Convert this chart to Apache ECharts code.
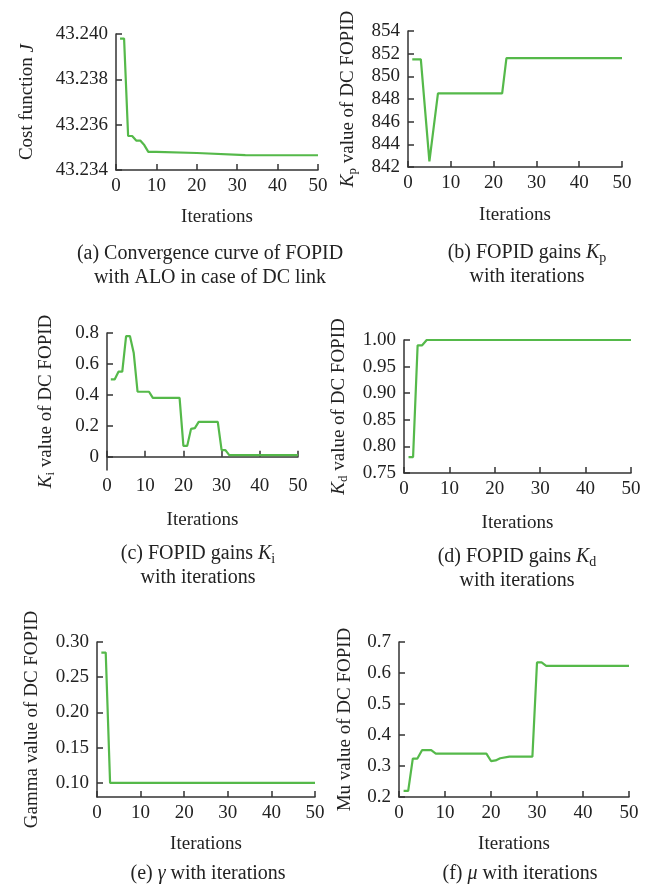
<!DOCTYPE html>
<html>
<head>
<meta charset="utf-8">
<script src="https://cdn.jsdelivr.net/npm/echarts@6/dist/echarts.min.js"></script>
<style>
  html, body { margin: 0; padding: 0; background: #fff; }
  #chart { width: 663px; height: 885px; }
</style>
</head>
<body>
<div id="chart"></div>
<script>
// (a) cost function J
var costIter = [1, 2, 3, 4, 5, 6, 7, 8, 10, 20, 32, 50];
var costVal = [43.2398, 43.2398, 43.2355, 43.2355, 43.2353, 43.2353, 43.2351, 43.2348, 43.2348, 43.23475, 43.23466, 43.23465];
// (b) Kp
var kpIter = [1, 3, 5, 7, 22, 23, 50];
var kpVal = [851.5, 851.5, 842.5, 848.5, 848.5, 851.6, 851.6];
// (c) Ki
var kiIter = [1, 2, 3, 4, 5, 6, 7, 8, 11, 12, 19, 20, 21, 22, 23, 24, 29, 30, 31, 32, 50];
var kiVal = [0.50, 0.50, 0.55, 0.55, 0.78, 0.78, 0.67, 0.42, 0.42, 0.38, 0.38, 0.07, 0.07, 0.18, 0.185, 0.225, 0.225, 0.043, 0.043, 0.01, 0.01];
// (d) Kd
var kdIter = [1, 2, 3, 4, 5, 50];
var kdVal = [0.78, 0.78, 0.99, 0.99, 1.00, 1.00];
// (e) gamma
var gIter = [1, 2, 3, 50];
var gVal = [0.285, 0.285, 0.10, 0.10];
// (f) mu
var muIter = [1, 2, 3, 4, 5, 7, 8, 19, 20, 21, 22, 24, 29, 30, 31, 32, 50];
var muVal = [0.22, 0.22, 0.324, 0.324, 0.351, 0.351, 0.34, 0.34, 0.316, 0.318, 0.325, 0.33, 0.33, 0.634, 0.634, 0.623, 0.623];

var kiTicks = [0, 0.2, 0.4, 0.6, 0.8];
var gTicks = [0.10, 0.15, 0.20, 0.25, 0.30];

var FONT = 'Liberation Serif';
var GREEN = '#55b94a';
var AXIS = '#333';

var rich = {
  i: { fontFamily: FONT, fontStyle: 'italic', fontSize: 19, color: '#222' },
  sub: { fontFamily: FONT, fontSize: 13, color: '#222', verticalAlign: 'bottom', padding: [9, 0, 0, 0] }
};
var capRich = {
  i: { fontFamily: FONT, fontStyle: 'italic', fontSize: 20, color: '#222' },
  sub: { fontFamily: FONT, fontSize: 14, color: '#222', verticalAlign: 'bottom', padding: [9, 0, 0, 0] }
};

function pairs(xs, ys) {
  return xs.map(function (x, k) { return [x, ys[k]]; });
}

var myChart = echarts.init(document.getElementById('chart'), null, { renderer: 'canvas' });

var panels = [
  { grid: { left: 116, top: 34, width: 202, height: 136 }, min: 43.234, max: 43.240, interval: 0.002, dec: 3,
    name: 'Cost function {i|J}', gap: 79, xgap: 38, data: pairs(costIter, costVal),
    cap: '(a) Convergence curve of FOPID\nwith ALO in case of DC link', cx: 210, cy: 242 },
  { grid: { left: 408, top: 31, width: 214, height: 136 }, min: 842, max: 854, interval: 2, dec: 0,
    name: '{i|K}{sub|p} value of DC FOPID', gap: 49, xgap: 39, data: pairs(kpIter, kpVal),
    cap: '(b) FOPID gains {i|K}{sub|p}\nwith iterations', cx: 527, cy: 241 },
  { grid: { left: 107, top: 333, width: 191, height: 137 }, min: -0.086, max: 0.8, custom: kiTicks, dec: -1,
    name: '{i|K}{sub|i} value of DC FOPID', gap: 50, xgap: 41, data: pairs(kiIter, kiVal),
    cap: '(c) FOPID gains {i|K}{sub|i}\nwith iterations', cx: 198, cy: 542 },
  { grid: { left: 404, top: 340, width: 227, height: 133 }, min: 0.75, max: 1.00, interval: 0.05, dec: 2,
    name: '{i|K}{sub|d} value of DC FOPID', gap: 54, xgap: 41, data: pairs(kdIter, kdVal),
    cap: '(d) FOPID gains {i|K}{sub|d}\nwith iterations', cx: 517, cy: 545 },
  { grid: { left: 97, top: 642, width: 218, height: 155 }, min: 0.08, max: 0.30, custom: gTicks, dec: 2,
    name: 'Gamma value of DC FOPID', gap: 55, xgap: 38, data: pairs(gIter, gVal),
    cap: '(e) {i|γ} with iterations', cx: 208, cy: 862 },
  { grid: { left: 399, top: 642, width: 230, height: 155 }, min: 0.2, max: 0.7, interval: 0.1, dec: 1,
    name: 'Mu value of DC FOPID', gap: 44, xgap: 38, data: pairs(muIter, muVal),
    cap: '(f) {i|μ} with iterations', cx: 520, cy: 862 }
];

var option = {
  backgroundColor: '#fff',
  animation: false,
  title: [],
  grid: [],
  xAxis: [],
  yAxis: [],
  series: []
};

panels.forEach(function (p, k) {
  option.grid.push(Object.assign({ containLabel: false }, p.grid));
  option.title.push({
    text: p.cap,
    left: p.cx,
    top: p.cy,
    textAlign: 'center',
    padding: 0,
    textStyle: { fontFamily: FONT, fontSize: 20, fontWeight: 'normal', color: '#222', lineHeight: 24, rich: capRich }
  });
  option.xAxis.push({
    type: 'value', gridIndex: k, min: 0, max: 50, interval: 10,
    name: 'Iterations', nameLocation: 'middle', nameGap: p.xgap,
    nameTextStyle: { fontFamily: FONT, fontSize: 19, color: '#222' },
    axisLine: { show: true, lineStyle: { color: AXIS, width: 1.5 } },
    axisTick: { show: true, inside: true, length: 6, lineStyle: { color: AXIS, width: 1.5 } },
    axisLabel: { fontFamily: FONT, fontSize: 19, color: '#222', margin: 7 },
    splitLine: { show: false }
  });
  var fmt = function (v) {
    if (p.dec < 0) return v === 0 ? '0' : String(+v.toFixed(1));
    return v.toFixed(p.dec);
  };
  var y = {
    type: 'value', gridIndex: k, min: p.min, max: p.max,
    name: p.name, nameLocation: 'middle', nameRotate: 90, nameGap: p.gap,
    nameTextStyle: { fontFamily: FONT, fontSize: 19, color: '#222', rich: rich },
    axisLine: { show: true, lineStyle: { color: AXIS, width: 1.5 } },
    axisTick: { show: true, inside: true, length: 6, lineStyle: { color: AXIS, width: 1.5 } },
    axisLabel: { fontFamily: FONT, fontSize: 19, color: '#222', margin: 8, formatter: fmt },
    splitLine: { show: false }
  };
  if (p.custom) {
    y.axisLabel.customValues = p.custom;
    y.axisTick.customValues = p.custom;
  } else {
    y.interval = p.interval;
  }
  option.yAxis.push(y);
  option.series.push({
    type: 'line', xAxisIndex: k, yAxisIndex: k,
    data: p.data, showSymbol: false, symbol: 'none',
    lineStyle: { color: GREEN, width: 2.2 }
  });
});

myChart.setOption(option);
</script>
</body>
</html>
